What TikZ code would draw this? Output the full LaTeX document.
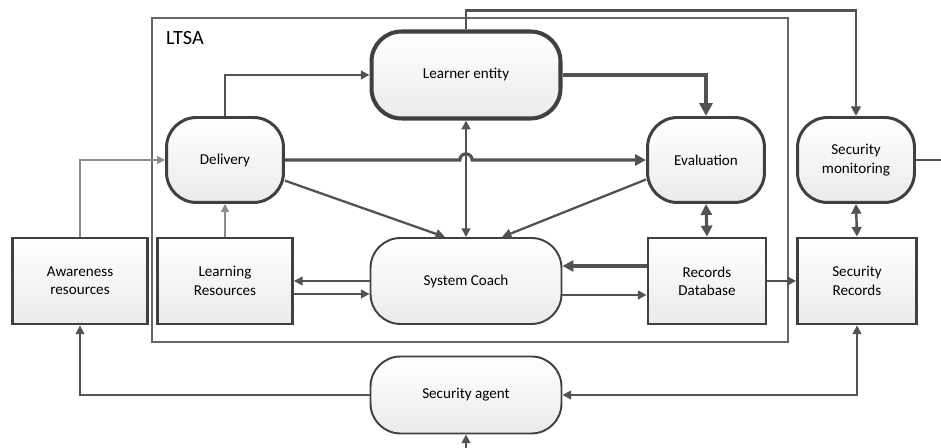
\documentclass[tikz,border=0pt]{standalone}
\usepackage{fontspec}
\setmainfont{Carlito}
\usetikzlibrary{arrows.meta}

\begin{document}
\begin{tikzpicture}[
	x=0.02cm, y=-0.02cm,
	font=\fontsize{8.6}{10.4}\selectfont,
	>={Triangle[length=3pt 1.8, width=3pt 1.8]},
	proc/.style={
		draw=black!75, line width=1.7pt, rounded corners=0.6cm,
		top color=white, bottom color=black!8, align=center,
		minimum width=2.34cm, minimum height=1.7cm
	},
	coach/.style={proc, line width=1.1pt, minimum width=3.82cm},
	store/.style={
		draw=black!75, line width=1.6pt,
		top color=white, bottom color=black!8, align=center,
		minimum width=2.7cm, minimum height=1.72cm
	},
	link/.style={draw=black!68, line width=1.1pt},
	faint/.style={draw=black!45, line width=0.8pt}
]
	\useasboundingbox (0, 0) rectangle (941, 448);

	% LTSA frame
	\draw[black!60, line width=1pt] (152, 18) rectangle (788, 342);
	\node[anchor=west, font=\fontsize{11.5}{13}\selectfont] (ltsa) at (160, 38) {LTSA};

	% Processes
	\node[proc, line width=2.3pt, minimum width=3.78cm, minimum height=1.74cm]
		(learner) at (466, 75) {Learner entity};
	\node[proc] (delivery) at (225, 160) {Delivery};
	\node[proc] (evaluation) at (706, 160) {Evaluation};
	\node[proc] (monitor) at (856, 160) {Security\\monitoring};
	\node[coach, minimum height=1.72cm] (coach) at (466, 281) {System Coach};
	\node[coach, minimum height=1.54cm] (agent) at (466, 395) {Security agent};

	% Stores
	\node[store] (aware) at (80, 281) {Awareness\\resources};
	\node[store] (learning) at (225, 281) {Learning\\Resources};
	\node[store, minimum width=2.36cm] (records) at (707, 281) {Records\\Database};
	\node[store, minimum width=2.38cm] (secrec) at (857, 281) {Security\\Records};

	\coordinate (hop) at (466, 160);
	\coordinate (exit) at (941, 160);
	\coordinate (entry) at (466, 448);

	% Flows
	\draw[link, line width=1.4pt, ->] (learner.north) -- ++(0, -19) -| (monitor.north);
	\draw[link, ->] (delivery.north) |- (learner.west);
	\draw[link, line width=2.4pt, ->] (learner.east) -| (evaluation.north);
	\draw[link, line width=1.8pt, ->]
		(delivery.east) -- ([xshift=-3.5pt]hop) arc[start angle=180, end angle=0, radius=3.5pt]
		-- (evaluation.west);
	\draw[link, <->] (learner.south) -- (coach.north);
	\draw[link, line width=1.3pt, ->] (delivery.-19) -- ([xshift=-0.42cm]coach.north);
	\draw[link, line width=1.3pt, ->] (evaluation.198) -- ([xshift=0.72cm]coach.north);
	\draw[faint, ->] (learning.north) -- (delivery.south);
	\draw[faint, ->] (aware.north) |- (delivery.west);
	\draw[link, ->] (coach.west) -- (learning.east);
	\draw[link, ->] ([yshift=-0.26cm]learning.east) -- ([yshift=-0.26cm]coach.west);
	\draw[link, line width=1.8pt, ->] ([yshift=0.3cm]records.west) -- ([yshift=0.3cm]coach.east);
	\draw[link, ->] ([yshift=-0.28cm]coach.east) -- ([yshift=-0.28cm]records.west);
	\draw[link, line width=1.8pt, <->] (evaluation.south) -- (records.north);
	\draw[link, line width=1.4pt, <->] (monitor.south) -- (secrec.north);
	\draw[link, ->] (records.east) -- (secrec.west);
	\draw[link] (monitor.east) -- (exit);
	\draw[link, ->] (agent.west) -| (aware.south);
	\draw[link, <->] (agent.east) -| (secrec.south);
	\draw[link, ->] (entry) -- (agent.south);
\end{tikzpicture}
\end{document}
